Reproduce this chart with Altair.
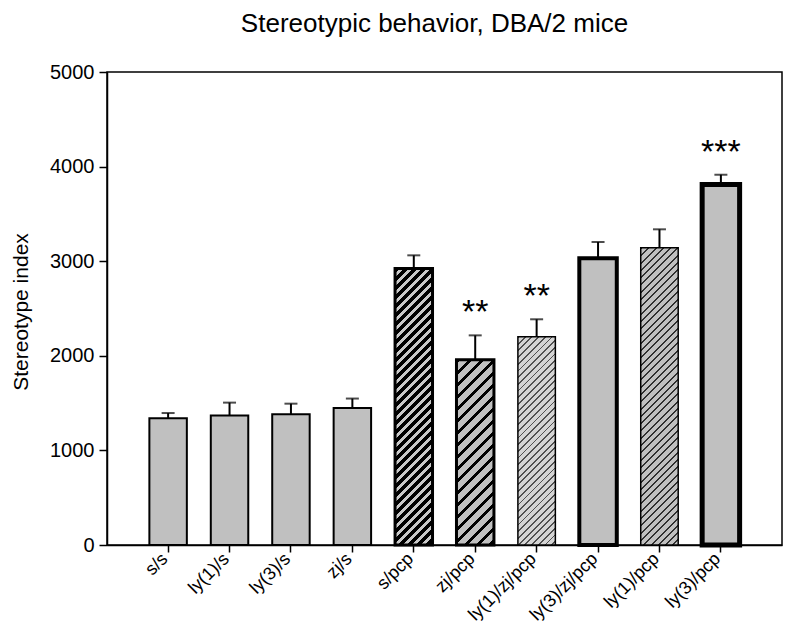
import math
import altair as alt
import pandas as pd

# ---- data ----
groups = ["s/s", "ly(1)/s", "ly(3)/s", "zj/s", "s/pcp", "zj/pcp",
          "ly(1)/zj/pcp", "ly(3)/zj/pcp", "ly(1)/pcp", "ly(3)/pcp"]
means = [1340, 1368, 1381, 1448, 2922, 1958, 2202, 3030, 3143, 3810]
sems = [55, 137, 113, 100, 140, 258, 184, 173, 194, 104]
stars = ["", "", "", "", "", "**", "**", "", "", "***"]
y_ticks = [0, 1000, 2000, 3000, 4000, 5000]

df = pd.DataFrame({"group": groups, "mean": means, "sem": sems, "stars": stars})

# ---- layout / style ----
W, H = 675, 473
YMAX = 5000
P_INNER, P_OUTER = 0.39, 0.69
step = W / (len(groups) - P_INNER + 2 * P_OUTER)
bw = step * (1 - P_INNER)
FONT = "Liberation Sans"
GRAY = "#c0c0c0"


def hatch(value, period, lw, bg, fg):
    """Diagonal '/' stripes as a hard-stop linear gradient in the bar's bbox."""
    w = bw
    h = value * H / YMAX
    T = w + h
    k = T * w / (w * w + h * h)
    stops = []
    i = 0
    while True:
        a = i * period / T
        if a >= 1:
            break
        b = min((i * period + lw) / T, 1)
        stops += [{"offset": round(a, 5), "color": bg},
                  {"offset": round(a, 5), "color": fg},
                  {"offset": round(b, 5), "color": fg},
                  {"offset": round(b, 5), "color": bg}]
        i += 1
    return {"gradient": "linear", "x1": 0, "y1": 0,
            "x2": round(k, 5), "y2": round(k * h / w, 5), "stops": stops}


# per-bar style: (fill spec or None, stroke width)
styles = {
    "s/s": (None, 2),
    "ly(1)/s": (None, 2),
    "ly(3)/s": (None, 2),
    "zj/s": (None, 2),
    "s/pcp": ((9, 4.5, "#c8c8c8", "#000000"), 3),
    "zj/pcp": ((12, 4, "#c0c0c0", "#000000"), 3),
    "ly(1)/zj/pcp": ((6.7, 1.8, "#d4d4d4", "#505050"), 1.5),
    "ly(3)/zj/pcp": (None, 4),
    "ly(1)/pcp": ((7.3, 2.0, "#c0c0c0", "#303030"), 1.5),
    "ly(3)/pcp": (None, 5),
}

x_enc = alt.X("group:N", sort=groups,
              scale=alt.Scale(domain=groups, paddingInner=P_INNER, paddingOuter=P_OUTER),
              axis=alt.Axis(title=None, labelAngle=-45, labelFontSize=18,
                            labelAlign="right", labelBaseline="middle",
                            tickSize=7, labelPadding=4, labelOffset=-3))
y_enc = alt.Y("mean:Q",
              scale=alt.Scale(domain=[0, YMAX], nice=False, zero=True),
              axis=alt.Axis(values=y_ticks, format="d", title="Stereotype index",
                            grid=False, tickSize=8, labelFontSize=20,
                            titleFontSize=21, labelPadding=5,
                            titleX=-76, titleY=H / 2 + 3))

base = alt.Chart(df).transform_calculate(hi="datum.mean + datum.sem")

err = base.mark_rule(color="black", strokeWidth=2).encode(
    x=x_enc, y=y_enc, y2=alt.Y2("hi:Q"))

layers = [err]
for g, m in zip(groups, means):
    spec, sw = styles[g]
    fill = GRAY if spec is None else hatch(m, *spec)
    layers.append(
        base.transform_filter(alt.datum.group == g)
        .mark_bar(fill=fill, stroke="black", strokeWidth=sw)
        .encode(x=x_enc, y=y_enc)
    )

caps = base.mark_tick(color="black", size=13, thickness=2).encode(
    x=x_enc, y=alt.Y("hi:Q", scale=alt.Scale(domain=[0, YMAX], nice=False)))

star_text = base.mark_text(font=FONT, fontSize=34, baseline="middle",
                           align="center", dy=-22, color="black").encode(
    x=x_enc, y=alt.Y("hi:Q", scale=alt.Scale(domain=[0, YMAX], nice=False)),
    text="stars:N")

layers += [caps, star_text]

chart = alt.layer(*layers).properties(
    width=W, height=H,
    autosize="none",
    padding={"left": 99, "top": 64, "right": 8, "bottom": 82},
    title=alt.TitleParams("Stereotypic behavior, DBA/2 mice", font=FONT,
                          fontSize=26, fontWeight="normal", color="black",
                          offset=25, dx=-10),
).configure_view(stroke="black", strokeWidth=1.5).configure_axis(
    domainColor="black", domainWidth=1.5, tickColor="black", tickWidth=1.5,
    labelColor="black", titleColor="black", labelFont=FONT, titleFont=FONT,
    titleFontWeight="normal"
)

chart.save("out.html", embed_options={"renderer": "svg", "actions": False})
